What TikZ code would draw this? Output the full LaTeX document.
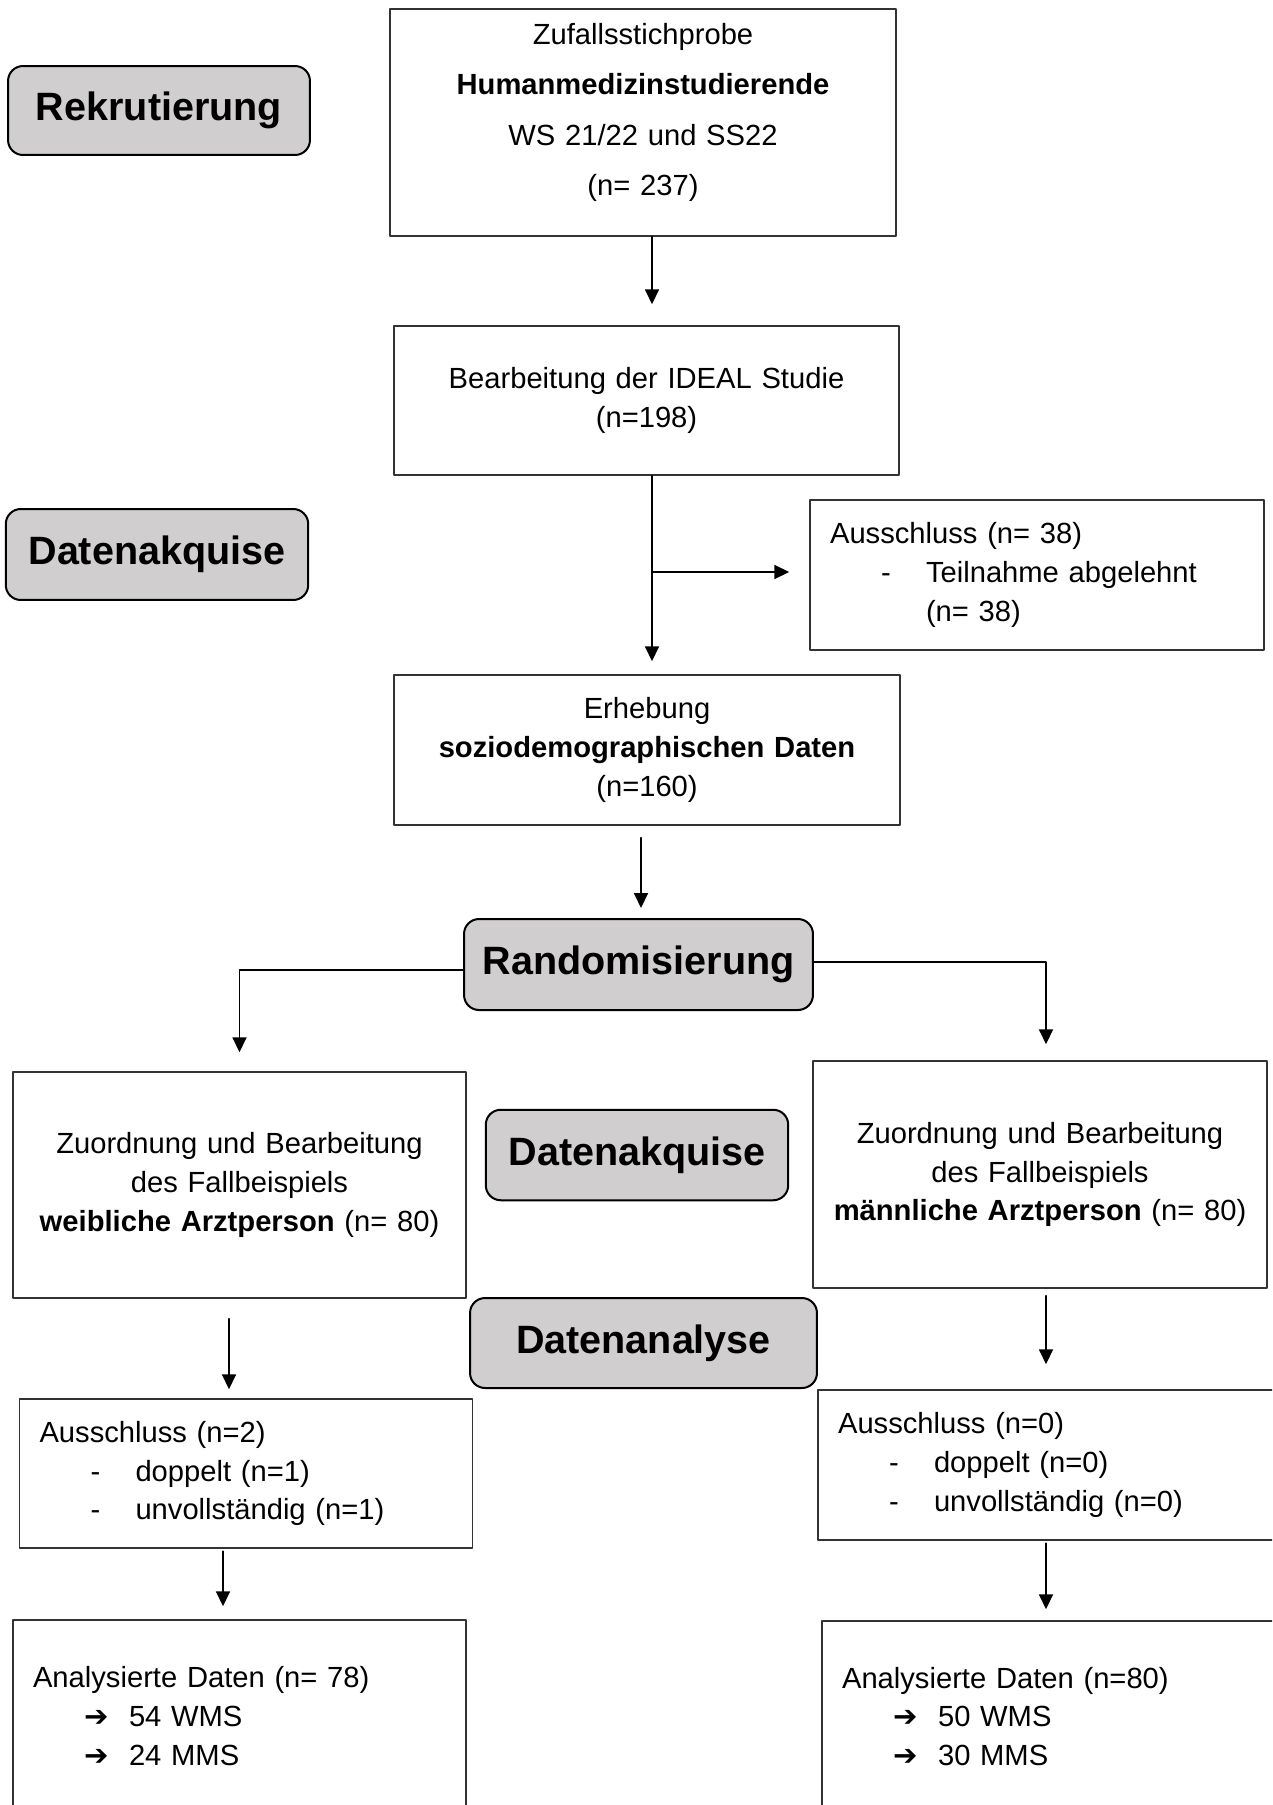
\documentclass[tikz,border=0pt]{standalone}
\usepackage{fontspec}
\setmainfont{Liberation Sans}
\newfontfamily\symfont{DejaVu Sans}
\usetikzlibrary{arrows.meta}

\definecolor{phasegray}{RGB}{208,206,206}
\newcommand{\listitem}[2]{\hspace*{1.02cm}\makebox[0.9cm][l]{#1}#2}
\newcommand{\pfeil}{{\symfont ➔}}

\begin{document}
\begin{tikzpicture}[line cap=round,line join=round,>={Triangle[length=0.3cm,width=0.28cm]},x=0.02cm,y=-0.02cm,
    phase/.style={draw,line width=0.04cm,fill=phasegray,rounded corners=0.3cm,inner sep=0pt,font=\fontsize{22.5}{27}\selectfont\bfseries},
    mbox/.style={draw=black!80,line width=0.03cm,inner sep=0.1cm,align=center,font=\fontsize{16.6}{22}\selectfont},
    lbox/.style={draw=black!80,line width=0.03cm,inner xsep=0.4cm,inner ysep=0pt,align=left,font=\fontsize{16.6}{22}\selectfont},
    conn/.style={->,line width=0.035cm}]
      \useasboundingbox (0,0) rectangle (1272,1805);
      \clip (0,0) rectangle (1272,1805);

      % phases
      \node[phase,minimum width=6.04cm,minimum height=1.78cm] (rekr) at (159,110.5) {Rekrutierung};
      \node[phase,minimum width=6.05cm,minimum height=1.82cm] (akqA) at (157,554.5) {Datenakquise};
      \node[phase,minimum width=6.98cm,minimum height=1.82cm] (random) at (638.5,964.5) {Randomisierung};
      \node[phase,minimum width=6.05cm,minimum height=1.81cm] (akqB) at (637,1155) {Datenakquise};
      \node[phase,minimum width=6.94cm,minimum height=1.80cm] (analyse) at (643.5,1343) {Datenanalyse};

      % boxes
      \node[mbox,minimum width=10.12cm,minimum height=4.54cm,text width=9.9cm,font=\fontsize{16.6}{28.7}\selectfont] (zufall) at (643,122.5)
        {Zufallsstichprobe\\ \textbf{Humanmedizinstudierende}\\ WS 21/22 und SS22\\ (n= 237)\par\kern0.4cm};
      \node[mbox,minimum width=10.10cm,minimum height=2.98cm,text width=9.9cm] (bearb) at (646.5,400.5)
        {Bearbeitung der IDEAL Studie\\ (n=198)};
      \node[lbox,minimum width=9.08cm,minimum height=3.00cm,text width=8.28cm] (ausschl) at (1037,575)
        {Ausschluss (n= 38)\\ \listitem{-}{Teilnahme abgelehnt}\\ \listitem{}{(n= 38)}};
      \node[mbox,minimum width=10.12cm,minimum height=3.00cm,text width=9.9cm] (erheb) at (647,750)
        {Erhebung\\ \textbf{soziodemographischen Daten}\\ (n=160)};
      \node[mbox,minimum width=9.06cm,minimum height=4.52cm,text width=8.86cm] (weibl) at (239.5,1185)
        {Zuordnung und Bearbeitung\\ des Fallbeispiels\\ \textbf{weibliche Arztperson} (n= 80)};
      \node[mbox,minimum width=9.08cm,minimum height=4.54cm,text width=8.88cm] (maennl) at (1040,1174.5)
        {Zuordnung und Bearbeitung\\ des Fallbeispiels\\ \textbf{männliche Arztperson} (n= 80)};
      \node[lbox,minimum width=9.06cm,minimum height=2.98cm,text width=8.26cm] (ausL) at (246,1473.5)
        {Ausschluss (n=2)\\ \listitem{-}{doppelt (n=1)}\\ \listitem{-}{unvollständig (n=1)}};
      \node[lbox,minimum width=9.64cm,minimum height=3.00cm,text width=8.84cm] (ausR) at (1059,1465)
        {Ausschluss (n=0)\\ \listitem{-}{doppelt (n=0)}\\ \listitem{-}{unvollständig (n=0)}};
      \node[lbox,minimum width=9.06cm,minimum height=3.84cm,text width=8.26cm] (finL) at (239.5,1716)
        {Analysierte Daten (n= 78)\\ \listitem{\pfeil}{54 WMS}\\ \listitem{\pfeil}{24 MMS}};
      \node[lbox,minimum width=9.56cm,minimum height=3.82cm,text width=8.76cm] (finR) at (1061,1716.5)
        {Analysierte Daten (n=80)\\ \listitem{\pfeil}{50 WMS}\\ \listitem{\pfeil}{30 MMS}};

      % arrow columns
      \coordinate (colA) at (652,0);
      \coordinate (colB) at (641,0);
      \coordinate (colR) at (1046,0);
      \coordinate (colLa) at (229,0);
      \coordinate (colLb) at (223,0);

      \draw[conn,shorten >=0.42cm] (zufall.south -| colA) -- (bearb.north -| colA);
      \draw[conn,shorten >=0.26cm] (bearb.south -| colA) -- (erheb.north -| colA);
      \draw[conn,shorten >=0.4cm] ([yshift=0.06cm]ausschl.west -| colA) -- ([yshift=0.06cm]ausschl.west);
      \draw[conn,shorten <=0.24cm,shorten >=0.2cm] (erheb.south -| colB) -- (random.north -| colB);
      \draw[conn,shorten >=0.38cm] ([yshift=-0.11cm]random.west) -| (weibl.north);
      \draw[conn,shorten >=0.32cm] ([yshift=0.05cm]random.east) -| (maennl.north -| colR);
      \draw[conn,shorten <=0.4cm,shorten >=0.18cm] (weibl.south -| colLa) -- (ausL.north -| colLa);
      \draw[conn,shorten <=0.14cm,shorten >=0.5cm] (maennl.south -| colR) -- (ausR.north -| colR);
      \draw[conn,shorten <=0.05cm,shorten >=0.26cm] (ausL.south -| colLb) -- (finL.north -| colLb);
      \draw[conn,shorten <=0.05cm,shorten >=0.22cm] (ausR.south -| colR) -- (finR.north -| colR);
    \end{tikzpicture}
\end{document}
